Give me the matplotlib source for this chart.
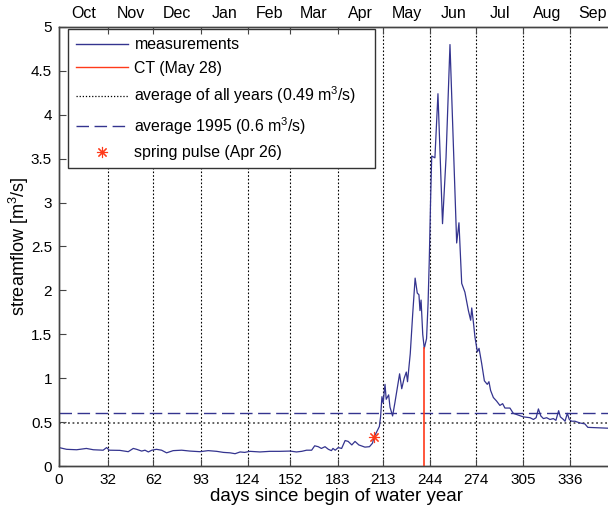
import numpy as np
import matplotlib
matplotlib.use("Agg")
import matplotlib.pyplot as plt
from matplotlib.lines import Line2D

plt.rcParams['font.family'] = ['Liberation Sans', 'DejaVu Sans']
plt.rcParams['mathtext.fontset'] = 'custom'
plt.rcParams['mathtext.rm'] = 'Liberation Sans'
plt.rcParams['mathtext.it'] = 'Liberation Sans'
plt.rcParams['mathtext.default'] = 'rm'

days = [0, 5, 11.6, 18, 22.6, 29, 31.3, 33, 40, 45.5, 48.8, 51, 54.3, 56.5, 58.7,
        61, 64, 67.4, 70.7, 75, 80.6, 86, 92.6, 98, 103.6, 108, 112.4, 115.7, 119,
        122, 125.5, 132, 138.6, 145, 151.8, 156, 159.5, 162.7, 166, 168, 170.3,
        172.4, 174.8, 177, 179, 180, 181.5, 183.5, 185.7, 188, 190, 192.4, 194.5,
        197, 201, 204, 206, 207, 208.5, 210.5, 211.3, 212.2, 213, 214.2, 215,
        216.6, 217.5, 219.2, 220.7, 222.2, 223.8, 225.2, 226.8, 228.2, 229, 230.8,
        232.4, 234, 235.4, 236.5, 237.2, 237.9, 239, 240, 241.5, 242.5, 243.3,
        244.2, 244.9, 247, 249, 252, 254.3, 256.9, 261.3, 262.8, 264.6, 266.7,
        269, 270.5, 271.2, 272.4, 273.3, 274.9, 276, 277.7, 279.5, 281.4, 282.5,
        283.6, 285.4, 287.5, 289.7, 291.5, 293, 296.3, 298.5, 301.8, 305, 309.5,
        311.7, 313.5, 315, 316.6, 318.3, 320.4, 322.6, 324.8, 326.5, 328.3, 329.4,
        331.4, 332.5, 334, 335.3, 336.8, 339, 342.3, 345.5, 347.5, 360.7, 365]
flow = [0.21, 0.19, 0.185, 0.20, 0.185, 0.18, 0.21, 0.18, 0.178, 0.163, 0.20, 0.19,
        0.17, 0.18, 0.16, 0.18, 0.19, 0.18, 0.15, 0.175, 0.18, 0.17, 0.163, 0.175,
        0.167, 0.155, 0.15, 0.14, 0.16, 0.155, 0.167, 0.16, 0.167, 0.167, 0.17,
        0.16, 0.167, 0.18, 0.18, 0.23, 0.22, 0.20, 0.22, 0.19, 0.175, 0.20, 0.18,
        0.21, 0.20, 0.29, 0.28, 0.24, 0.28, 0.24, 0.215, 0.22, 0.26, 0.33, 0.38,
        0.45, 0.56, 0.79, 0.72, 0.93, 0.76, 0.81, 0.67, 0.57, 0.72, 0.88, 1.05,
        0.88, 1.0, 1.07, 0.96, 1.28, 1.73, 2.14, 1.97, 1.95, 1.77, 1.89, 1.50,
        1.34, 1.45, 1.85, 2.35, 3.06, 3.53, 3.51, 4.24, 2.76, 3.51, 4.80, 2.54,
        2.77, 2.08, 1.98, 1.77, 1.66, 1.80, 1.62, 1.47, 1.30, 1.34, 1.17, 0.97,
        0.93, 0.96, 0.86, 0.78, 0.74, 0.69, 0.71, 0.66, 0.66, 0.60, 0.58, 0.56,
        0.55, 0.53, 0.55, 0.65, 0.57, 0.54, 0.55, 0.53, 0.54, 0.52, 0.63, 0.56,
        0.53, 0.51, 0.60, 0.53, 0.51, 0.51, 0.49, 0.48, 0.44, 0.43, 0.43]

month_bounds = [0, 32, 62, 93, 124, 152, 183, 213, 244, 274, 305, 336, 365]
months = ['Oct', 'Nov', 'Dec', 'Jan', 'Feb', 'Mar', 'Apr', 'May', 'Jun', 'Jul', 'Aug', 'Sep']

avg_all = 0.49
avg_1995 = 0.6
ct_day = 240
ct_flow = 1.34
pulse_day = 207
pulse_flow = 0.33

blue = '#34348f'
red = '#ff3a1a'
star = (8, 2, 0)  # asterisk marker

fig = plt.figure(figsize=(6.08, 5.08), dpi=100)
ax = fig.add_axes([59 / 608, 42 / 508, 555.5 / 608, 439 / 508])

# month grid
for d in month_bounds[1:-1]:
    ax.axvline(d, color='k', ls=(0, (1.5, 1.8)), lw=0.8, zorder=1)

ax.axhline(avg_all, color='#555555', ls=(0, (1, 1.5)), lw=1.3, zorder=2)
ax.axhline(avg_1995, color=blue, ls=(0, (9, 4)), lw=1.0, zorder=2)
ax.plot(days, flow, color=blue, lw=0.9, zorder=3)
ax.plot([ct_day, ct_day], [0, ct_flow], color=red, lw=1.2, zorder=4)
ax.plot(pulse_day, pulse_flow, marker=star, ms=8, mew=0.8, color=red,
        ls='none', zorder=5)

ax.set_xlim(0, 365)
ax.set_ylim(0, 5)
ax.set_xticks(month_bounds[:-1])
ax.set_yticks(np.arange(0, 5.01, 0.5))
ax.set_yticklabels(['0', '0.5', '1', '1.5', '2', '2.5', '3', '3.5', '4', '4.5', '5'])
ax.tick_params(direction='in', length=5, width=0.8, labelsize=11, right=True,
               color='#444444', pad=5)
ax.set_xlabel('days since begin of water year', fontsize=13.5, labelpad=1)
ax.set_ylabel('streamflow [m$^3$/s]', fontsize=13, labelpad=0)

# month names along the top
ax2 = ax.twiny()
ax2.set_xlim(0, 365)
ax2.set_xticks(month_bounds[1:-1])
ax2.set_xticklabels([])
mids = [(a + b) / 2 for a, b in zip(month_bounds[:-1], month_bounds[1:])]
ax2.set_xticks(mids, minor=True)
ax2.set_xticklabels(months, minor=True, fontsize=11.5)
ax2.tick_params(which='major', direction='in', length=5, width=0.8, color='#444444')
ax2.tick_params(which='minor', length=0, pad=4)

for a in (ax, ax2):
    for s in a.spines.values():
        s.set_color('#444444')
        s.set_linewidth(1.0)

handles = [
    Line2D([], [], color=blue, lw=1.0),
    Line2D([], [], color=red, lw=1.0),
    Line2D([], [], color='k', ls=(0, (1, 1.5)), lw=0.9),
    Line2D([], [], color=blue, ls=(0, (9, 4)), lw=1.0),
    Line2D([], [], color=red, marker=star, ms=8, mew=0.8, ls='none'),
]
labels = ['measurements', 'CT (May 28)', 'average of all years (0.49 m$^3$/s)',
          'average 1995 (0.6 m$^3$/s)', 'spring pulse (Apr 26)']
leg = ax.legend(handles, labels, loc='upper left',
                bbox_to_anchor=(0.0162, 0.688, 0.553, 0.307), mode='expand',
                borderaxespad=0, fontsize=11.4, handlelength=3.3,
                labelspacing=0.55, fancybox=False, framealpha=1,
                edgecolor='#333333', borderpad=0.5, handletextpad=0.4)
leg.get_frame().set_linewidth(1.0)
leg.set_zorder(10)

fig.savefig('out.png', dpi=100)
